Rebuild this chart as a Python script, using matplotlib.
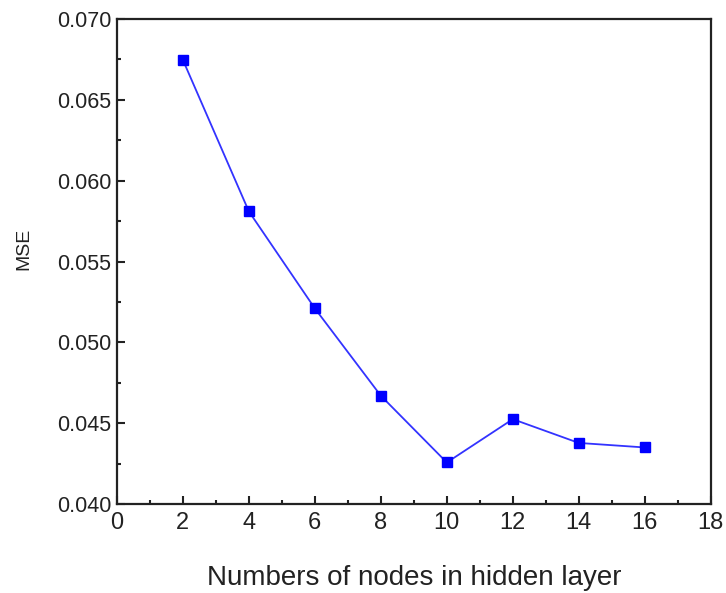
import matplotlib
matplotlib.use("Agg")
import matplotlib.pyplot as plt
from matplotlib.ticker import MultipleLocator

plt.rcParams['font.family'] = ['Liberation Sans', 'DejaVu Sans']

# data
nodes = [2, 4, 6, 8, 10, 12, 14, 16]
mse = [0.06747, 0.05810, 0.05210, 0.04670, 0.04257, 0.04525, 0.04378, 0.04350]

fig = plt.figure(figsize=(7.26, 5.93), dpi=100)
ax = fig.add_axes([0.161, 0.150, 0.818, 0.818])

ax.plot(nodes, mse, color='#3333ff', linewidth=1.3, marker='s', markersize=7,
        markerfacecolor='#0000ff', markeredgecolor='#0000ff')

ax.set_xlim(0, 18)
ax.set_ylim(0.040, 0.070)
ax.xaxis.set_major_locator(MultipleLocator(2))
ax.xaxis.set_minor_locator(MultipleLocator(1))
ax.yaxis.set_major_locator(MultipleLocator(0.005))
ax.yaxis.set_minor_locator(MultipleLocator(0.0025))
ax.yaxis.set_major_formatter(plt.FormatStrFormatter('%.3f'))

ax.tick_params(which='both', direction='in', top=False, right=False,
               colors='#222222', width=1.5)
ax.tick_params(which='major', length=6)
ax.tick_params(which='minor', length=3)
ax.tick_params(axis='x', which='major', labelsize=17, pad=6)
ax.tick_params(axis='y', which='major', labelsize=15.5, pad=4)
for s in ax.spines.values():
    s.set_linewidth(1.6)
    s.set_color('#222222')

ax.set_xlabel('Numbers of nodes in hidden layer', fontsize=20, labelpad=22, color='#222222')
ax.set_ylabel('MSE', fontsize=14, color='#222222')
ax.yaxis.set_label_coords(-0.142, 0.526)

fig.savefig('out.png', dpi=100)
